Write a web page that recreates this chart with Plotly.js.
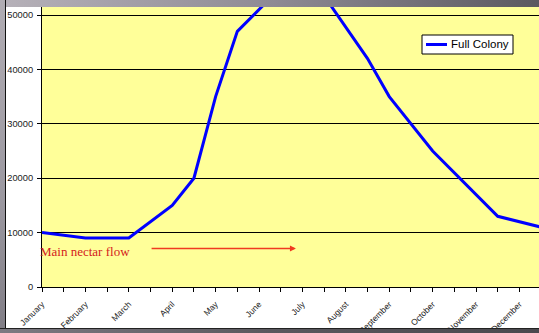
<!DOCTYPE html>
<html>
<head>
<meta charset="utf-8">
<script src="https://cdn.plot.ly/plotly-3.0.1.min.js"></script>
<style>
  html, body { margin: 0; padding: 0; width: 539px; height: 333px; overflow: hidden; }
  body { position: relative; background: #ffffff; }
  #chart { position: absolute; left: 6px; top: 7px; width: 533px; height: 326px; z-index: 1; }
  #topband { position: absolute; left: 0; top: 0; width: 539px; height: 7px; z-index: 5;
             background: linear-gradient(90deg, #b6b1b9 0%, #8f8b94 50%, #5b5960 100%); }
  #leftband { position: absolute; left: 0; top: 0; width: 5px; height: 333px; z-index: 5;
              border-right: 1px solid #111;
              background: linear-gradient(180deg, #b0acb3 0%, #9b98a0 60%, #807d85 100%); }
  #bottomband { position: absolute; left: 0; top: 328px; width: 539px; height: 5px; z-index: 5;
                border-top: 1px solid #222; box-sizing: border-box;
                background: linear-gradient(90deg, #7d7a82 0%, #5a585e 50%, #4a494e 100%); }
</style>
</head>
<body>
<div id="chart"></div>
<div id="topband"></div>
<div id="leftband"></div>
<div id="bottomband"></div>
<script>
// Month labels (category axis)
var months = ["January","February","March","April","May","June",
              "July","August","September","October","November","December"];
// Positions of the data points in months (0 = January)
var pointMonth = [0, 1, 2, 3, 3.5, 4, 4.5, 5.5, 6.5, 7.5, 8, 9, 10.5, 11.5];
// Full colony population
var fullColony = [10000, 9000, 9000, 15000, 20000, 35000, 47000, 55000, 53500, 42000, 35000, 25000, 13000, 11000];
// Y axis ticks
var yTicks = [0, 10000, 20000, 30000, 40000, 50000];
var yTickText = ["0", "10000", "20000", "30000", "40000", "50000"];
var seriesName = "Full Colony";
var noteText = "Main nectar flow";

var tickVals = [], tickText = [];
for (var i = 0; i < months.length; i++) {
  tickVals.push(i); tickText.push(months[i]);
  tickVals.push(i + 0.5); tickText.push("");
}

var lineColor = "#0000ff";
var trace = {
  x: pointMonth,
  y: fullColony,
  type: "scatter",
  mode: "lines",
  name: seriesName,
  line: { color: lineColor, width: 3 }
};

var font = "Arial, 'Liberation Sans', sans-serif";

var layout = {
  width: 533,
  height: 326,
  margin: { l: 36, r: 0, t: 0, b: 46, pad: 0 },
  paper_bgcolor: "#ffffff",
  plot_bgcolor: "#ffff99",
  showlegend: false,
  xaxis: {
    range: [0, 11.45],
    tickmode: "array",
    tickvals: tickVals,
    ticktext: tickText,
    tickangle: -45,
    ticks: "outside", ticklen: 4, tickcolor: "#000", tickwidth: 1,
    ticklabelstandoff: 4,
    showline: true, linecolor: "#000", linewidth: 1,
    showgrid: false, zeroline: false,
    tickfont: { family: font, size: 8.5, color: "#222" }
  },
  yaxis: {
    range: [0, 51470],
    tickmode: "array",
    tickvals: yTicks,
    ticktext: yTickText,
    ticks: "outside", ticklen: 4, tickcolor: "#000", tickwidth: 1,
    ticklabelstandoff: 2,
    showline: true, linecolor: "#000", linewidth: 1,
    showgrid: true, gridcolor: "#000", gridwidth: 1,
    zeroline: false,
    tickfont: { family: font, size: 9.3, color: "#222" }
  },
  shapes: [
    // legend box
    { type: "rect", xref: "paper", yref: "paper", x0: 0.7646, x1: 0.9477, y0: 0.8321, y1: 0.9,
      fillcolor: "#ffffff", line: { color: "#000", width: 1 }, layer: "above" },
    // legend line sample
    { type: "line", xref: "paper", yref: "paper", x0: 0.7726, x1: 0.8149, y0: 0.8661, y1: 0.8661,
      line: { color: lineColor, width: 3 }, layer: "above" }
  ],
  annotations: [
    {
      xref: "paper", yref: "paper", x: 0.8185, y: 0.8661,
      text: seriesName, showarrow: false,
      xanchor: "left", yanchor: "middle",
      font: { family: font, size: 11.5, color: "#000" }
    },
    {
      xref: "x", yref: "y",
      x: 0.99, y: 6500,
      text: noteText,
      showarrow: false,
      font: { family: "'Liberation Serif', 'Times New Roman', serif", size: 13, color: "#d42020" },
      xanchor: "center", yanchor: "middle"
    },
    {
      xref: "x", yref: "y", axref: "x", ayref: "y",
      x: 5.85, y: 7100, ax: 2.49, ay: 7100,
      text: "",
      showarrow: true,
      arrowhead: 2, arrowsize: 0.8, arrowwidth: 1.5,
      arrowcolor: "#f03a20"
    }
  ]
};

Plotly.newPlot("chart", [trace], layout, { displayModeBar: false, staticPlot: true });
</script>
</body>
</html>
